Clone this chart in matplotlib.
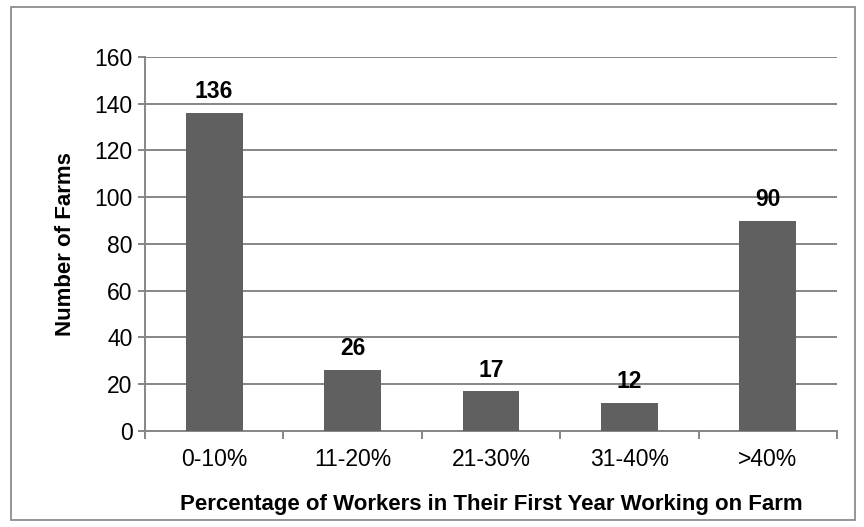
import numpy as np
import matplotlib.pyplot as plt
from matplotlib.patches import Rectangle

# data
categories = ['0-10%', '11-20%', '21-30%', '31-40%', '>40%']
farms = [136, 26, 17, 12, 90]
y_ticks = [0, 20, 40, 60, 80, 100, 120, 140, 160]

plt.rcParams['font.family'] = ['Liberation Sans', 'DejaVu Sans']

grid_col = '#868686'
bar_col = '#606060'

fig = plt.figure(figsize=(8.64, 5.27), dpi=100)
ax = fig.add_axes([0.1678, 0.1822, 0.801, 0.7097])

x = np.arange(len(categories))
bars = ax.bar(x, farms, width=0.41, color=bar_col, zorder=3)

for b, v in zip(bars, farms):
    ax.annotate(str(v), (b.get_x() + b.get_width() / 2, v),
                xytext=(0, 7), textcoords='offset points',
                ha='center', va='bottom', fontsize=16.5, fontweight='bold')

ax.set_xlim(-0.5, len(categories) - 0.5)
ax.set_ylim(0, 160)
ax.set_yticks(y_ticks)
ax.yaxis.grid(True, color=grid_col, linewidth=1.4, zorder=0)

# category labels centred, ticks on the boundaries
ax.set_xticks(x)
ax.set_xticklabels(categories, fontsize=16.5)
ax.set_xticks(np.arange(len(categories) + 1) - 0.5, minor=True)
ax.tick_params(axis='x', which='major', length=0, pad=12)
ax.tick_params(axis='x', which='minor', length=6, width=1.4, color=grid_col)
ax.tick_params(axis='y', length=5, width=1.4, color=grid_col, labelsize=16.5, pad=4)

for s in ['top', 'right']:
    ax.spines[s].set_visible(False)
for s in ['left', 'bottom']:
    ax.spines[s].set_color(grid_col)
    ax.spines[s].set_linewidth(1.4)

ax.set_xlabel('Percentage of Workers in Their First Year Working on Farm',
              fontsize=16, fontweight='bold', labelpad=17)
ax.set_ylabel('Number of Farms', fontsize=16, fontweight='bold', labelpad=13)

# outer chart border
fig.patches.append(Rectangle((0.0127, 0.013), 0.977, 0.974, transform=fig.transFigure,
                             fill=False, edgecolor='#8c8c8c', linewidth=1.3))

fig.savefig('out.png', dpi=100)
